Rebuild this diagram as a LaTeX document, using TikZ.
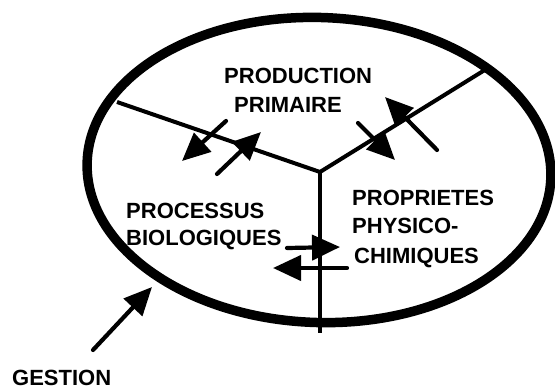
\documentclass[tikz,border=0pt]{standalone}
\usepackage{fontspec}
\setmainfont{Liberation Sans}
\usetikzlibrary{arrows.meta}
\begin{document}
\begin{tikzpicture}[x=1pt,y=-1pt,
  lab/.style={font=\bfseries\fontsize{22}{26}\selectfont, inner sep=0pt, anchor=base west},
  wall/.style={line width=4pt},
  flow/.style={line width=4.2pt, line cap=round, -{Triangle[length=28pt,width=25pt]}}]
\useasboundingbox (0,0) rectangle (555,389);
\draw[line width=9.5pt, rotate around={-2:(319,170)}] (319,170) ellipse [x radius=232pt, y radius=152.5pt];
% partition walls
\coordinate (J) at (320,172);
\coordinate (L) at (117,102);
\coordinate (R) at (488,68);
\coordinate (B) at (320,333);
\draw[wall] (L) -- (J) -- (R);
\draw[wall] (J) -- (B);
% labels
\node[lab] (prod) at (224,83) {PRODUCTION};
\node[lab] (prim) at (234,112) {PRIMAIRE};
\node[lab] (proc) at (126,218) {PROCESSUS};
\node[lab] (biol) at (126,245) {BIOLOGIQUES};
\node[lab] (prop) at (352,205) {PROPRIETES};
\node[lab] (phys) at (352,233) {PHYSICO-};
\node[lab] (chim) at (354,263) {CHIMIQUES};
\node[lab] (gest) at (12,385.5) {GESTION};
% arrow end points
\coordinate (a1s) at (226,121); \coordinate (a1e) at (182,161);
\coordinate (a2s) at (217,174); \coordinate (a2e) at (261,132);
\coordinate (b1s) at (358,123); \coordinate (b1e) at (395,160);
\coordinate (b2s) at (437,150); \coordinate (b2e) at (385,97);
\coordinate (c1s) at (287,248); \coordinate (c1e) at (340,247);
\coordinate (c2s) at (347,268); \coordinate (c2e) at (273,268);
\coordinate (gs) at (93,350); \coordinate (ge) at (152,287);
\draw[flow] (a1s) -- (a1e);
\draw[flow] (a2s) -- (a2e);
\draw[flow] (b1s) -- (b1e);
\draw[flow] (b2s) -- (b2e);
\draw[flow] (c1s) -- (c1e);
\draw[flow] (c2s) -- (c2e);
\draw[flow] (gs) -- (ge);
\end{tikzpicture}
\end{document}
